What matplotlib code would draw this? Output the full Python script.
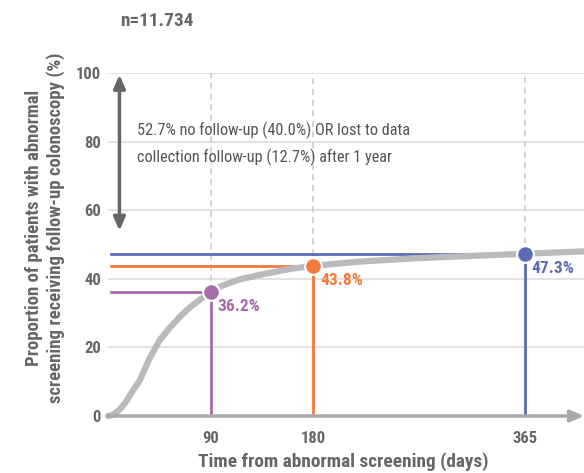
import matplotlib
matplotlib.use("Agg")
import matplotlib.pyplot as plt

plt.rcParams['font.family'] = ['Roboto Condensed', 'Roboto', 'DejaVu Sans']

# cumulative follow-up curve
days = [0, 4, 10, 15, 20, 28, 36, 45, 54, 62, 69, 80, 90, 100, 115, 138, 160, 180,
        220, 270, 320, 365, 417]
pct = [0, 0.3, 1.8, 3.8, 6.5, 10.5, 16.5, 22, 25.7, 28.6, 30.9, 33.8, 36.2, 38, 39.8,
       41.5, 42.9, 43.8, 45.0, 46.0, 46.7, 47.3, 48.0]

mark_days = [90, 180, 365]
mark_vals = [36.2, 43.8, 47.3]
mark_colors = ['#a76aaa', '#f47b3f', '#5b6bb7']

yticks = [0, 20, 40, 60, 80, 100]
text_gray = '#666666'

fig = plt.figure(figsize=(5.84, 4.73), dpi=100)
ax = fig.add_axes([0.185, 0.1205, 0.815, 0.7252])
ax.set_xlim(0, 417)
ax.set_ylim(0, 100)

for y in yticks[1:]:
    ax.axhline(y, color='#dddddd', lw=1.2, zorder=1)

for d, v, c in zip(mark_days, mark_vals, mark_colors):
    ax.plot([d, d], [v, 100], color='#c8c8c8', lw=1.1, ls=(0, (4, 3)), zorder=1)
    ax.plot([3, d], [v, v], color=c, lw=2, zorder=2)
    ax.plot([d, d], [0, v], color=c, lw=2, zorder=2)

ax.plot(days, pct, color='#b9babc', lw=4.5, solid_capstyle='round',
        solid_joinstyle='round', zorder=3, clip_on=False)

for d, v, c in zip(mark_days, mark_vals, mark_colors):
    ax.plot(d, v, 'o', ms=12, color=c, mec='white', mew=1.5, zorder=4)
    ax.annotate(f"{v:.1f}%", (d, v), xytext=(5, -10.5), textcoords='offset points',
                ha='left', va='center', color=c, fontsize=12.5, fontweight='bold')

# x axis with arrow
ax.annotate('', xy=(417, 0), xytext=(0, 0),
            arrowprops=dict(arrowstyle='-|>,head_length=0.8,head_width=0.35',
                            color='#aaaaaa', lw=2.5, shrinkA=0, shrinkB=0),
            annotation_clip=False, zorder=5)

# double arrow for the no follow-up share
ax.annotate('', xy=(10, 99.5), xytext=(10, 54),
            arrowprops=dict(arrowstyle='<|-|>,head_length=0.8,head_width=0.35',
                            color='#666666', lw=2.5, shrinkA=0, shrinkB=0), zorder=5)
ax.text(25, 79.4, "52.7% no follow-up (40.0%) OR lost to data\n"
        "collection follow-up (12.7%) after 1 year",
        ha='left', va='center', color='#555555', fontsize=11.7, linespacing=1.75)

for s in ax.spines.values():
    s.set_visible(False)
ax.set_yticks(yticks)
ax.set_xticks(mark_days)
ax.tick_params(axis='y', length=0, colors=text_gray, labelsize=12, pad=5)
ax.tick_params(axis='x', length=0, colors=text_gray, labelsize=12, pad=11)
for lab in ax.get_xticklabels() + ax.get_yticklabels():
    lab.set_fontweight('bold')

ax.set_xlabel("Time from abnormal screening (days)", color=text_gray,
              fontsize=13.9, fontweight='bold', va='center')
ax.xaxis.set_label_coords(0.495, -0.134)
ax.set_ylabel("Proportion of patients with abnormal\n"
              "screening receiving follow-up colonoscopy (%)",
              color=text_gray, fontsize=13.5, fontweight='bold', va='center',
              linespacing=1.2)
ax.yaxis.set_label_coords(-0.132, 0.548)

fig.text(0.205, 0.955, "n=11.734", color=text_gray, fontsize=13.9,
         fontweight='bold', ha='left', va='center')

fig.savefig("out.png", dpi=100)
